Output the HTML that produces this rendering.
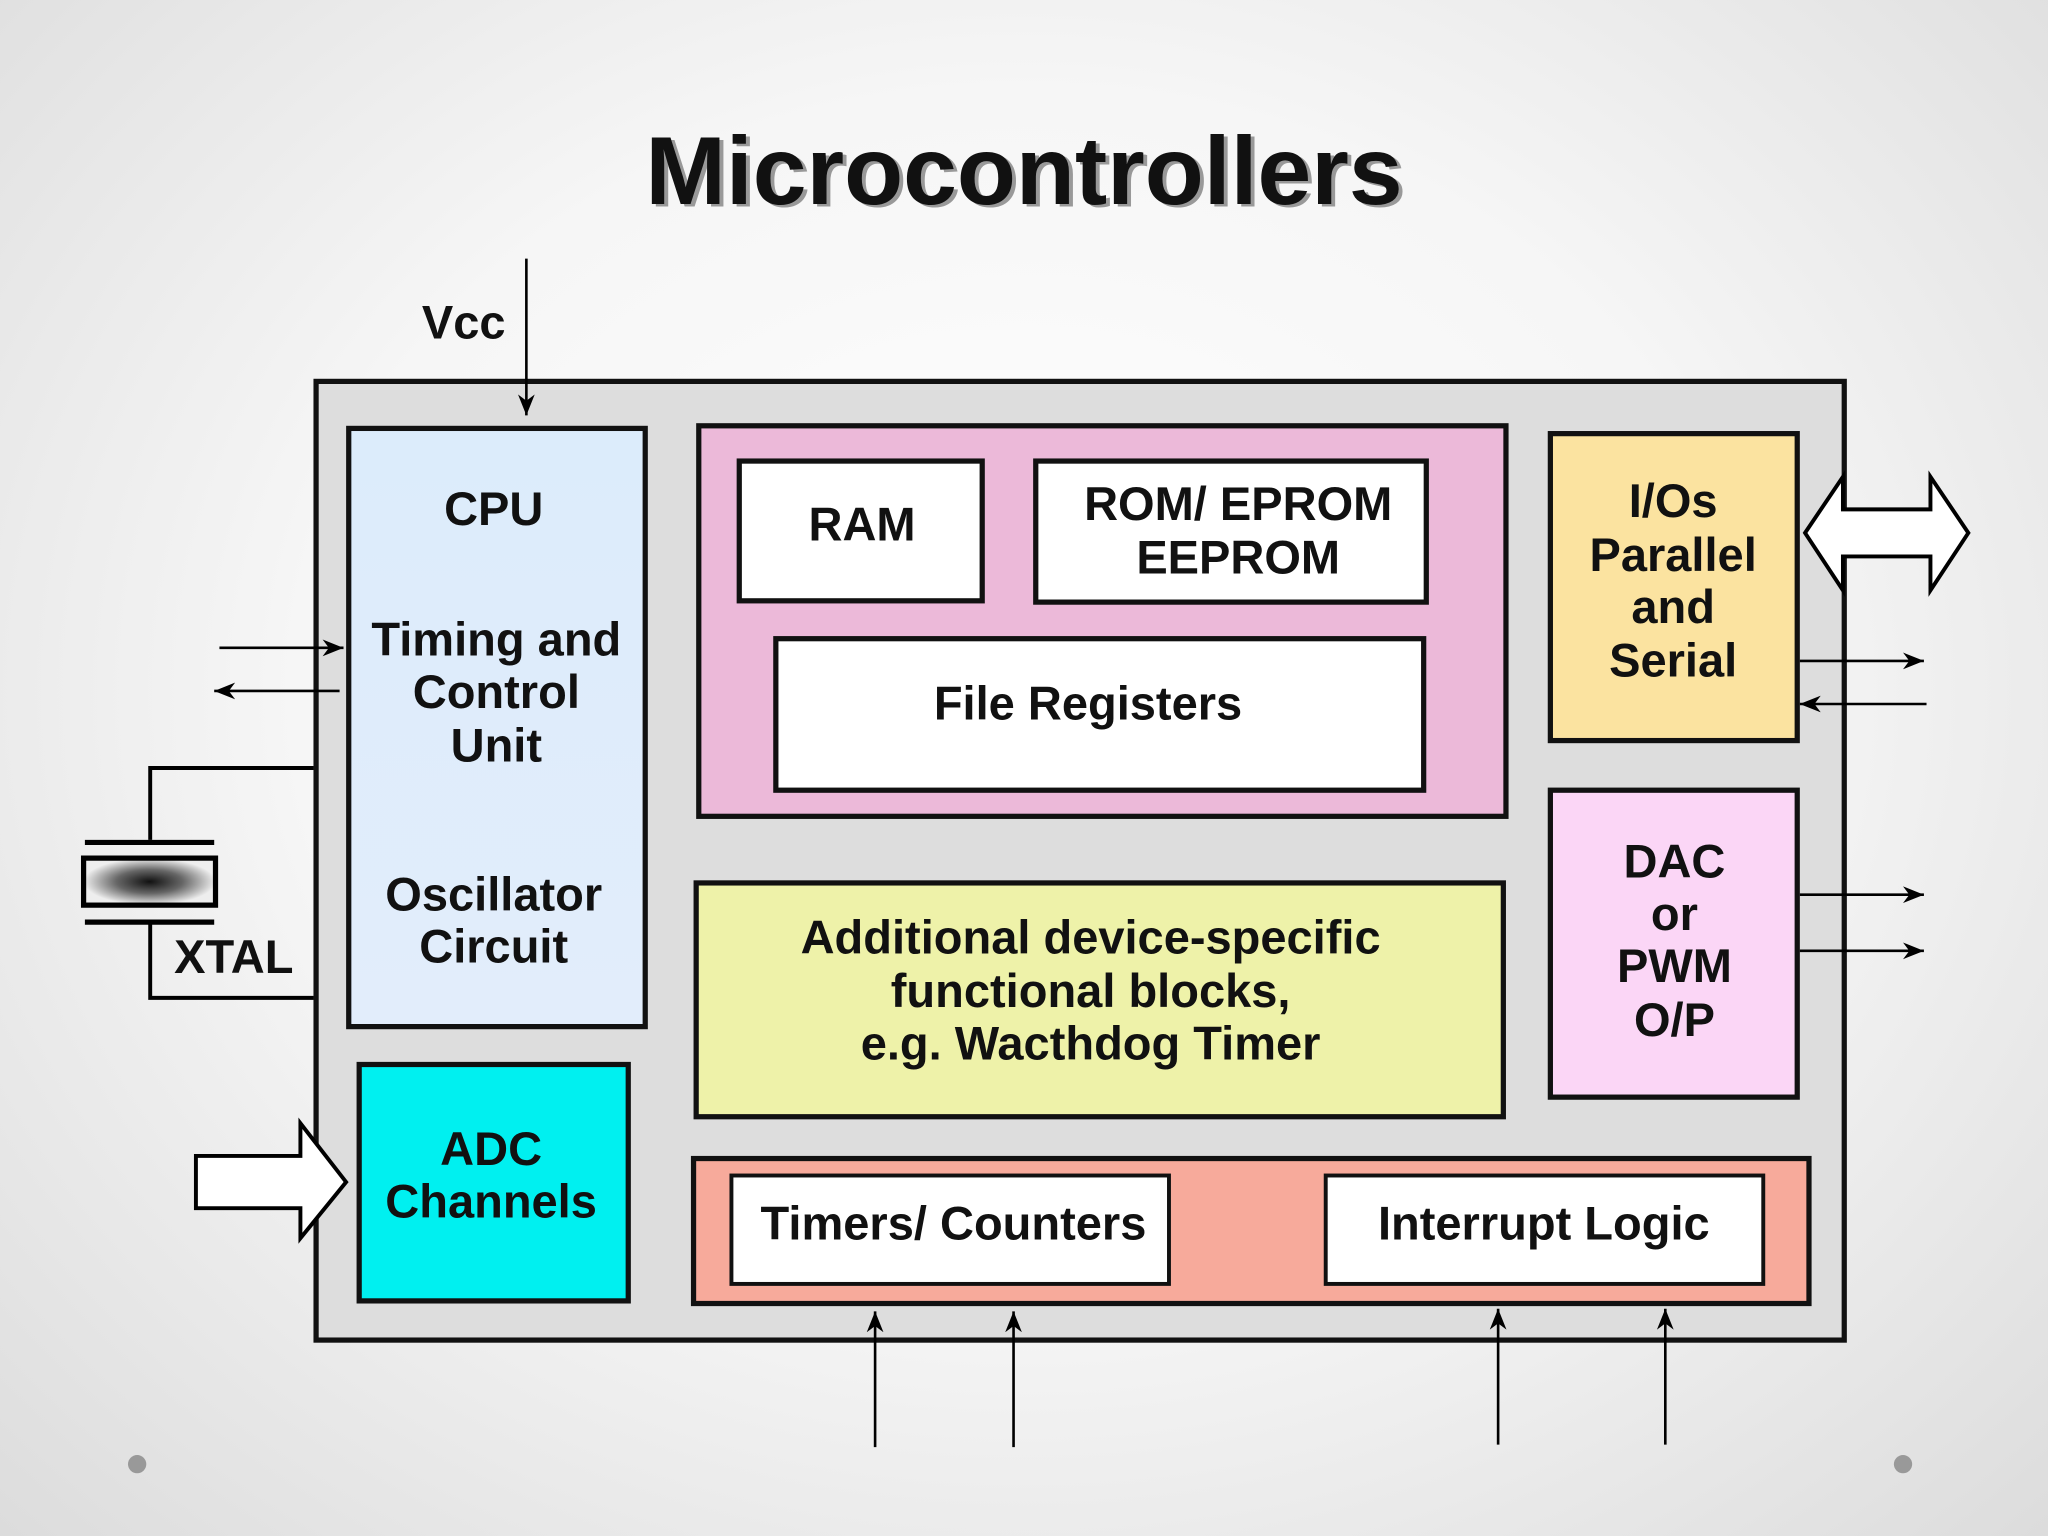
<!DOCTYPE html>
<html><head><meta charset="utf-8"><style>
html,body{margin:0;padding:0;width:2048px;height:1536px;overflow:hidden;}
body{background:radial-gradient(ellipse at 50% 45%,#ffffff 0%,#f6f6f6 50%,#dcdcdc 100%);}
svg{display:block}
text{font-family:"Liberation Sans",Arial,sans-serif;font-weight:bold;fill:#111;text-anchor:middle}
</style></head><body>
<svg width="2048" height="1536" viewBox="0 0 1568 1176" xmlns="http://www.w3.org/2000/svg">
<defs>
<marker id="a" viewBox="0 0 10 10" refX="10" refY="5" markerWidth="8" markerHeight="8" orient="auto"><path d="M0,1 L10,5 L0,9 L3,5 z" fill="#000"/></marker>
<linearGradient id="cpu" x1="0" y1="0" x2="0" y2="1"><stop offset="0" stop-color="#dcecfb"/><stop offset="1" stop-color="#e2edfb"/></linearGradient>
<radialGradient id="xt" cx="0.5" cy="0.5" r="0.5"><stop offset="0" stop-color="#111"/><stop offset="0.5" stop-color="#666"/><stop offset="1" stop-color="#eee"/></radialGradient>
</defs>
<g font-size="36">
<text x="787" y="158" font-size="74" style="fill:#999">Microcontrollers</text>
<text x="784" y="156" font-size="74">Microcontrollers</text>
<rect x="242" y="292" width="1170" height="734" fill="#dddddd" stroke="#111" stroke-width="4"/>
<rect x="267" y="328" width="227" height="458" fill="url(#cpu)" stroke="#111" stroke-width="4"/>
<text x="378" y="402">CPU</text>
<text x="380" y="502">Timing and</text>
<text x="380" y="542">Control</text>
<text x="380" y="583">Unit</text>
<text x="378" y="697">Oscillator</text>
<text x="378" y="737">Circuit</text>
<rect x="535" y="326" width="618" height="299" fill="#ecb9d9" stroke="#111" stroke-width="4"/>
<rect x="566" y="353" width="186" height="107" fill="#fff" stroke="#111" stroke-width="4"/>
<text x="660" y="414">RAM</text>
<rect x="793" y="353" width="299" height="108" fill="#fff" stroke="#111" stroke-width="4"/>
<text x="948" y="398">ROM/ EPROM</text>
<text x="948" y="439">EEPROM</text>
<rect x="594" y="489" width="496" height="116" fill="#fff" stroke="#111" stroke-width="4"/>
<text x="833" y="551">File Registers</text>
<rect x="1187" y="332" width="189" height="235" fill="#fbe3a0" stroke="#111" stroke-width="4"/>
<text x="1281" y="396">I/Os</text>
<text x="1281" y="437">Parallel</text>
<text x="1281" y="477">and</text>
<text x="1281" y="518">Serial</text>
<rect x="1187" y="605" width="189" height="235" fill="#fbd6f6" stroke="#111" stroke-width="4"/>
<text x="1282" y="672">DAC</text>
<text x="1282" y="712">or</text>
<text x="1282" y="752">PWM</text>
<text x="1282" y="793">O/P</text>
<rect x="533" y="676" width="618" height="179" fill="#eef2a9" stroke="#111" stroke-width="4"/>
<text x="835" y="730">Additional device-specific</text>
<text x="835" y="771">functional blocks,</text>
<text x="835" y="811">e.g. Wacthdog Timer</text>
<rect x="275" y="815" width="206" height="181" fill="#00f0f0" stroke="#111" stroke-width="4"/>
<text x="376" y="892">ADC</text>
<text x="376" y="932">Channels</text>
<rect x="531" y="887" width="854" height="111" fill="#f7aa9b" stroke="#111" stroke-width="4"/>
<rect x="560" y="900" width="335" height="83" fill="#fff" stroke="#111" stroke-width="3"/>
<text x="730" y="949">Timers/ Counters</text>
<rect x="1015" y="900" width="335" height="83" fill="#fff" stroke="#111" stroke-width="3"/>
<text x="1182" y="949">Interrupt Logic</text>
<line x1="403" y1="198" x2="403" y2="318" stroke="#000" stroke-width="2" marker-end="url(#a)"/>
<text x="355" y="259">Vcc</text>
<line x1="168" y1="496" x2="263" y2="496" stroke="#000" stroke-width="2" marker-end="url(#a)"/>
<line x1="260" y1="529" x2="164" y2="529" stroke="#000" stroke-width="2" marker-end="url(#a)"/>
<polyline points="240,588 115,588 115,643" fill="none" stroke="#000" stroke-width="3"/>
<polyline points="115,707 115,764 240,764" fill="none" stroke="#000" stroke-width="3"/>
<line x1="65" y1="645" x2="164" y2="645" stroke="#000" stroke-width="4"/>
<line x1="65" y1="706" x2="164" y2="706" stroke="#000" stroke-width="4"/>
<rect x="64" y="657" width="101" height="36" fill="url(#xt)" stroke="#000" stroke-width="4"/>
<text x="179" y="745">XTAL</text>
<polygon points="150,885 230,885 230,860 265,905 230,948 230,925 150,925" fill="#fff" stroke="#000" stroke-width="3"/>
<polygon points="1382,408 1411,365 1411,390 1478,390 1478,365 1507,408 1478,452 1478,426 1411,426 1411,452" fill="#fff" stroke="#000" stroke-width="3"/>
<line x1="1378" y1="506" x2="1473" y2="506" stroke="#000" stroke-width="2" marker-end="url(#a)"/>
<line x1="1475" y1="539" x2="1378" y2="539" stroke="#000" stroke-width="2" marker-end="url(#a)"/>
<line x1="1378" y1="685" x2="1473" y2="685" stroke="#000" stroke-width="2" marker-end="url(#a)"/>
<line x1="1378" y1="728" x2="1473" y2="728" stroke="#000" stroke-width="2" marker-end="url(#a)"/>
<line x1="670" y1="1108" x2="670" y2="1004" stroke="#000" stroke-width="2" marker-end="url(#a)"/>
<line x1="776" y1="1108" x2="776" y2="1004" stroke="#000" stroke-width="2" marker-end="url(#a)"/>
<line x1="1147" y1="1106" x2="1147" y2="1002" stroke="#000" stroke-width="2" marker-end="url(#a)"/>
<line x1="1275" y1="1106" x2="1275" y2="1002" stroke="#000" stroke-width="2" marker-end="url(#a)"/>
<circle cx="105" cy="1121" r="7" fill="#999"/>
<circle cx="1457" cy="1121" r="7" fill="#999"/>
</g>
</svg>
</body></html>
